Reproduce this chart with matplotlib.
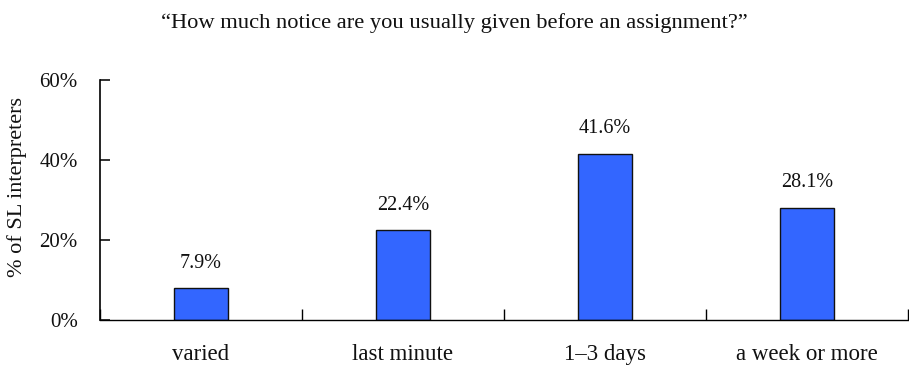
import matplotlib
matplotlib.use("Agg")
import matplotlib.pyplot as plt
import numpy as np

categories = ["varied", "last minute", "1\u20133 days", "a week or more"]
shares = [7.9, 22.4, 41.6, 28.1]  # % of SL interpreters
y_ticks = [0, 20, 40, 60]

plt.rcParams["font.family"] = ["Liberation Serif", "DejaVu Serif"]

fig = plt.figure(figsize=(9.09, 3.74), dpi=100)
ax = fig.add_axes([100 / 909, 54 / 374, 808 / 909, 240 / 374])

x = np.arange(len(categories))
bars = ax.bar(x, shares, width=0.27, color="#3366FF", edgecolor="#111111", linewidth=1.0, zorder=2)

for xi, v in zip(x, shares):
    ax.annotate(f"{v:.1f}%", (xi, v), xytext=(0, 11), textcoords="offset points",
                ha="center", va="bottom", fontsize=14.5, color="#111111")

ax.set_xlim(-0.5, len(categories) - 0.5)
ax.set_ylim(0, 60)

ax.set_yticks(y_ticks)
ax.set_yticklabels([f"{t}%" for t in y_ticks])
ax.tick_params(axis="y", direction="in", length=7, width=1.2, labelsize=15, pad=16, colors="#111111")

# category ticks sit on the boundaries between groups
ax.set_xticks(np.arange(len(categories) + 1) - 0.5)
ax.set_xticklabels([])
ax.set_xticks(x, minor=True)
ax.set_xticklabels(categories, minor=True)
ax.tick_params(axis="x", which="major", direction="in", length=8, width=1.0)
ax.tick_params(axis="x", which="minor", length=0, labelsize=16.5, pad=17, colors="#111111")

for side in ("top", "right"):
    ax.spines[side].set_visible(False)
ax.spines["left"].set_linewidth(1.2)
ax.spines["bottom"].set_linewidth(1.0)

ax.set_ylabel("% of SL interpreters", fontsize=16, color="#111111")
ax.yaxis.set_label_coords(-0.09, 0.555)
fig.text(0.5, 1 - 23 / 374, "\u201cHow much notice are you usually given before an assignment?\u201d",
         ha="center", va="center", fontsize=16.2, color="#111111")

fig.savefig("out.png", dpi=100)
